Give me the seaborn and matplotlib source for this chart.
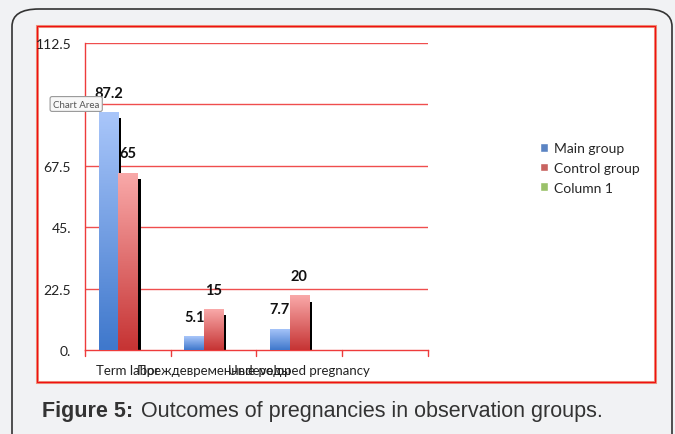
#!/usr/bin/env python3
# Grouped bar chart: outcomes of pregnancies in observation groups

import numpy as np
import pandas as pd
import matplotlib.pyplot as plt
import seaborn as sns
from matplotlib.patches import FancyBboxPatch, Rectangle
from matplotlib.colors import LinearSegmentedColormap

# ============================================================================
# DATA
# ============================================================================
categories = ["Term labor", "Преждевременные роды", "Undeveloped pregnancy", ""]
series = ["Main group", "Control group", "Column 1"]
main_group = [87.2, 5.1, 7.7, np.nan]
control_group = [65, 15, 20, np.nan]
column_1 = [np.nan, np.nan, np.nan, np.nan]
y_ticks = [0, 22.5, 45, 67.5, 90, 112.5]
y_tick_labels = ["0.", "22.5", "45.", "67.5", "", "112.5"]

df = pd.DataFrame({
    "category": categories * 3,
    "series": [s for s in series for _ in categories],
    "value": main_group + control_group + column_1,
})

# ============================================================================
# THEME SETTINGS
# ============================================================================
sns.set_theme(style="white")
plt.rcParams['font.family'] = ['Lato', 'DejaVu Sans']
plt.rcParams['font.size'] = 9.5

colors = {
    'main': '#4a80d4',
    'control': '#d9534f',
    'col1': '#9bd05a',
    'grid': '#ee3b3b',
    'card': '#f1f2f4',
}
grads = {
    'Main group': ('#3f78cc', '#a9c6fa'),
    'Control group': ('#c63434', '#f9a9a9'),
}

# ============================================================================
# CREATE PLOT
# ============================================================================
fig = plt.figure(figsize=(6.75, 4.35), dpi=100)
fig.patch.set_facecolor(colors['card'])

# card border and red chart frame
fig.patches.append(FancyBboxPatch((12 / 675, -0.05), 660 / 675, 1 - 10 / 435 + 0.05,
                                  boxstyle="round,pad=0,rounding_size=0.04",
                                  transform=fig.transFigure, facecolor=colors['card'],
                                  edgecolor='#333333', linewidth=1.2, zorder=-3))
fig.patches.append(Rectangle((37 / 675, 1 - 383 / 435), 618 / 675, 356 / 435,
                             transform=fig.transFigure, facecolor='white',
                             edgecolor='#ec9580', linewidth=2.2, zorder=-2))
fig.patches.append(Rectangle((37 / 675, 1 - 383 / 435), 618 / 675, 356 / 435,
                             transform=fig.transFigure, facecolor='none',
                             edgecolor='#f01010', linewidth=0.9, zorder=-1))

ax = fig.add_axes([85 / 675, 1 - 351 / 435, 343 / 675, 307 / 435])
ax.set_facecolor('none')

sns.barplot(data=df, x="category", y="value", hue="series", hue_order=series,
            palette=[colors['main'], colors['control'], colors['col1']],
            width=0.68, ax=ax, errorbar=None, zorder=3)

ax.set_ylim(0, 112.5)
ax.set_xlim(-0.5, 3.5)
ax.set_yticks(y_ticks)
ax.set_yticklabels(y_tick_labels)
ax.set_xlabel("")
ax.set_ylabel("")
ax.tick_params(axis='y', length=5, color=colors['grid'], pad=5, labelsize=10,
               labelcolor='#222222')
ax.tick_params(axis='x', length=0, pad=10, labelsize=9.5, labelcolor='#222222')
for sp in ['top', 'right']:
    ax.spines[sp].set_visible(False)
for sp in ['left', 'bottom']:
    ax.spines[sp].set_color(colors['grid'])
    ax.spines[sp].set_linewidth(1.0)
for yv in y_ticks[1:]:
    ax.axhline(yv, color=colors['grid'], lw=1.0, alpha=0.9, zorder=1)
for xv in np.arange(-0.5, 4.0, 1.0):
    ax.plot([xv, xv], [0, -2.2], color=colors['grid'], lw=1.0, clip_on=False)

# gradient fill, shadow and labels on each bar
for container, name in zip(ax.containers, series):
    for rect in container.patches:
        h = rect.get_height()
        if not np.isfinite(h) or h <= 0 or name not in grads:
            continue
        x0, w = rect.get_x(), rect.get_width()
        shadow = Rectangle((x0 + 0.035, -0.5), w, h - 1.8, facecolor='black',
                           edgecolor='none', zorder=2)
        ax.add_patch(shadow)
        cmap = LinearSegmentedColormap.from_list(name, grads[name])
        grad = np.linspace(0, 1, 100).reshape(-1, 1)
        im = ax.imshow(grad, cmap=cmap, origin='lower', aspect='auto',
                       extent=[x0, x0 + w, 0, h], zorder=3)
        im.set_clip_path(rect)
        rect.set_facecolor('none')
        rect.set_edgecolor('none')
    if name in grads:
        labels = [f"{v:g}" if np.isfinite(v) and v > 0 else "" for v in container.datavalues]
        ax.bar_label(container, labels=labels, padding=9, fontsize=10.5,
                     fontweight='bold', color='#111111', zorder=5)

ax.set_ylim(0, 112.5)
ax.set_xlim(-0.5, 3.5)

sns.move_legend(ax, loc='center left', bbox_to_anchor=(1.29, 0.593), frameon=False,
                title=None, handlelength=0.6, handleheight=0.6, handletextpad=0.4,
                labelspacing=0.55, fontsize=10)

# tooltip left over from the spreadsheet
fig.text(53 / 675, 1 - 105 / 435, "Chart Area", fontsize=7, color='#555555',
         va='center', ha='left',
         bbox=dict(boxstyle='round,pad=0.3,rounding_size=0.2', facecolor='#f8f8f8',
                   edgecolor='#999999', linewidth=0.8), zorder=10)

# caption
fig.text(42 / 675, 1 - 412 / 435, "Figure 5:", fontsize=15.5, fontweight='bold',
         family='Liberation Sans', color='#333333', va='center')
fig.text(141 / 675, 1 - 412 / 435, "Outcomes of pregnancies in observation groups.",
         fontsize=15.5, family='Liberation Sans', color='#333333', va='center')

# ============================================================================
# SAVE OUTPUT
# ============================================================================
plt.savefig("out.png", dpi=100)
plt.close()
